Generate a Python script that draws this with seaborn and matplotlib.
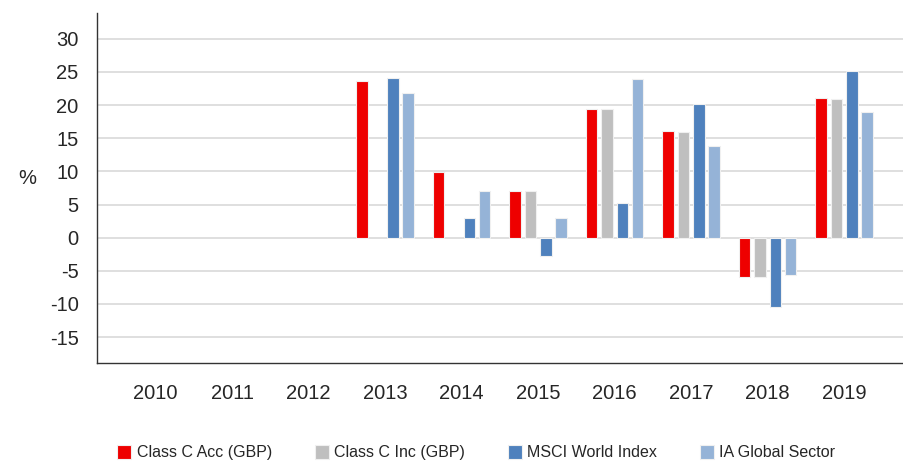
## Calendar year performance: fund share classes vs index and sector
import numpy as np
import pandas as pd
import matplotlib
matplotlib.use("Agg")
import matplotlib.pyplot as plt
import seaborn as sns

## Data (nan = no bar)
years = ["2010", "2011", "2012", "2013", "2014", "2015", "2016", "2017", "2018", "2019"]
series = ["Class C Acc (GBP)", "Class C Inc (GBP)", "MSCI World Index", "IA Global Sector"]
class_c_acc = [np.nan, np.nan, np.nan, 23.7, 9.9, 7.1, 19.4, 16.1, -6.0, 21.0]
class_c_inc = [np.nan, np.nan, np.nan, np.nan, np.nan, 7.1, 19.4, 16.0, -6.0, 20.9]
msci_world = [np.nan, np.nan, np.nan, 24.1, 2.9, -2.8, 5.3, 20.1, -10.4, 25.2]
ia_global = [np.nan, np.nan, np.nan, 21.8, 7.0, 2.9, 23.9, 13.9, -5.7, 19.0]
colors = ["#EE0000", "#BFBFBF", "#4F81BD", "#95B3D7"]

# long form table for seaborn
df = pd.DataFrame({
    "year": years * 4,
    "series": np.repeat(series, len(years)),
    "value": class_c_acc + class_c_inc + msci_world + ia_global,
})

sns.set_style("white")
plt.rcParams["font.family"] = ["Liberation Sans", "DejaVu Sans"]
plt.rcParams["axes.unicode_minus"] = False

fig = plt.figure(figsize=(9.04, 4.61), dpi=100)
ax = fig.add_axes([0.107, 0.2126, 0.892, 0.7594])

sns.barplot(data=df, x="year", y="value", hue="series", order=years, hue_order=series,
            palette=colors, width=0.8, gap=0.25, edgecolor="#F0F0F0", linewidth=0.8,
            saturation=1, errorbar=None, ax=ax, zorder=3)

ax.set_ylim(-18.9, 33.9)
ax.set_xlim(-0.77, 9.77)
ax.set_yticks(range(-15, 31, 5))
ax.yaxis.grid(True, color="#D9D9D9", linewidth=1.2, zorder=0)
ax.set_axisbelow(True)

for s in ["top", "right"]:
    ax.spines[s].set_visible(False)
for s in ["left", "bottom"]:
    ax.spines[s].set_color("#333333")
    ax.spines[s].set_linewidth(1.0)

ax.tick_params(axis="y", length=9, color="#D9D9D9", width=1.2, labelsize=14.5, pad=4)
ax.tick_params(axis="x", direction="in", length=5, color="#333333", width=1.0,
               labelsize=14.5, pad=15)
ax.set_xlabel("")
ax.set_ylabel("%", rotation=0, fontsize=14.5, labelpad=0)
ax.yaxis.set_label_coords(-0.086, 0.5)

# legend along the bottom of the figure
handles, labels = ax.get_legend_handles_labels()
ax.legend_.remove()
fig.legend(handles, labels, loc="lower center", bbox_to_anchor=(0.527, -0.03), ncol=4,
           frameon=False, fontsize=11.5, handlelength=0.85, handleheight=1.0,
           handletextpad=0.35, columnspacing=2.7)

plt.savefig("out.png", dpi=100)
